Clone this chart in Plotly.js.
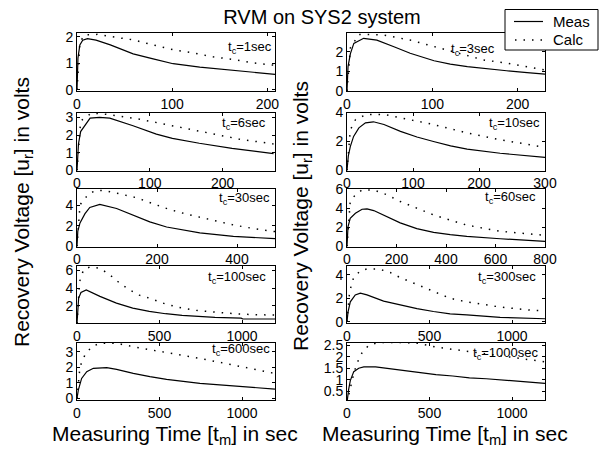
<!DOCTYPE html>
<html><head><meta charset="utf-8">
<script src="https://cdn.plot.ly/plotly-3.0.1.min.js"></script>
<style>html,body{margin:0;padding:0;background:#fff}#chart{width:600px;height:449px}</style>
</head><body><div id="chart"></div>
<script>
// ---- data ----
const tcLabels = ['1sec','3sec','6sec','10sec','30sec','60sec','100sec','300sec','600sec','1000sec'];
const seriesNames = ['Meas', 'Calc'];

const measT1 = [0, 1, 3, 6, 11, 20, 35, 59, 80, 101, 129, 164, 208];
const measV1 = [0, 1.2, 1.7, 1.88, 1.94, 1.88, 1.70, 1.36, 1.17, 0.99, 0.86, 0.73, 0.59];
const calcT1 = [0, 3, 8, 22, 40, 59, 80, 101, 122, 143, 164, 185, 208];
const calcV1 = [0, 1.8, 2.08, 2.1, 1.99, 1.89, 1.7, 1.52, 1.4, 1.25, 1.15, 1.02, 0.93];

const measT3 = [0, 1.2, 4, 8, 19.5, 35, 55, 74, 102, 121, 141, 164, 187, 211, 232];
const measV3 = [0, 1.24, 1.9, 2.42, 2.68, 2.59, 2.25, 1.92, 1.54, 1.37, 1.24, 1.12, 1.03, 0.93, 0.86];
const calcT3 = [0, 4, 14, 43, 74, 102, 129, 160, 188, 232];
const calcV3 = [0, 2.2, 2.88, 2.85, 2.59, 2.25, 1.92, 1.58, 1.41, 1.07];

const measT6 = [0, 2, 5, 11, 18, 31, 45, 77, 109, 131, 168, 213, 270];
const measV6 = [0, 1.5, 2.2, 2.53, 2.96, 3.0, 2.96, 2.53, 2.06, 1.82, 1.54, 1.25, 0.95];
const calcT6 = [0, 5, 20, 40, 86, 131, 177, 222, 270];
const calcV6 = [0, 2.8, 3.25, 3.18, 2.9, 2.53, 2.15, 1.78, 1.5];

const measT10 = [0, 2, 5, 10, 18, 28, 40, 56, 81, 106, 131, 157, 182, 232, 300];
const measV10 = [0, 1.0, 1.65, 2.35, 2.94, 3.29, 3.36, 3.17, 2.70, 2.31, 2.0, 1.70, 1.47, 1.19, 0.9];
const calcT10 = [0, 5, 13, 30, 56, 81, 131, 182, 232, 300];
const calcV10 = [0, 2.8, 3.52, 3.87, 3.87, 3.64, 3.17, 2.59, 2.12, 1.6];

const measT30 = [0, 2, 7.5, 20, 32, 50, 57, 99, 141, 182, 224, 266, 307, 391, 495];
const measV30 = [0, 1.5, 2.3, 3.2, 3.8, 4.05, 4.1, 3.7, 3.06, 2.4, 1.9, 1.58, 1.32, 0.99, 0.76];
const calcT30 = [0, 7.5, 20, 32, 49, 66, 99, 149, 191, 232, 274, 324, 391, 441, 495];
const calcV30 = [0, 4.05, 4.7, 5.2, 5.46, 5.46, 5.2, 4.75, 4.15, 3.6, 3.15, 2.7, 2.1, 1.75, 1.45];

const measT60 = [0, 4, 13, 34, 61, 81, 108, 148, 215, 282, 350, 417, 484, 619, 800];
const measV60 = [0, 2.05, 2.93, 3.46, 3.89, 3.92, 3.75, 3.29, 2.47, 1.87, 1.48, 1.24, 1.06, 0.81, 0.53];
const calcT60 = [0, 13, 34, 61, 108, 161, 215, 282, 350, 417, 484, 619, 800];
const calcV60 = [0, 4.7, 5.4, 5.9, 5.9, 5.4, 4.7, 4.0, 3.29, 2.76, 2.23, 1.59, 1.17];

const measT100 = [0, 4, 10, 24, 56, 139, 239, 338, 438, 537, 637, 836, 995, 1005, 1200];
const measV100 = [0, 1.74, 2.87, 3.5, 3.8, 3.06, 2.3, 1.74, 1.37, 1.1, 0.91, 0.69, 0.6, 0.5, 0.5];
const calcT100 = [0, 16, 40, 80, 139, 199, 259, 318, 378, 438, 537, 637, 736, 836, 955, 1075, 1200];
const calcV100 = [0, 4.75, 6.1, 6.4, 6.25, 5.5, 4.56, 3.81, 3.2, 2.87, 2.2, 1.74, 1.44, 1.25, 1.1, 0.99, 0.95];

const measT300 = [0, 6, 20, 50, 81, 121, 222, 323, 424, 524, 625, 726, 928, 1200];
const measV300 = [0, 0.82, 1.7, 2.29, 2.44, 2.29, 1.76, 1.41, 1.12, 0.88, 0.68, 0.59, 0.38, 0.26];
const calcT300 = [0, 16, 40, 81, 121, 192, 262, 323, 424, 524, 625, 726, 928, 1130, 1200];
const calcV300 = [0, 2.59, 3.76, 4.35, 4.5, 4.5, 4.2, 3.76, 3.18, 2.59, 2.0, 1.7, 1.26, 0.97, 0.95];

const measT600 = [0, 8, 28, 59, 99, 180, 240, 341, 442, 543, 745, 947, 1200];
const measV600 = [0, 0.54, 1.29, 1.72, 1.94, 1.98, 1.87, 1.61, 1.4, 1.23, 0.97, 0.8, 0.6];
const calcT600 = [0, 18, 48, 89, 139, 240, 341, 442, 543, 745, 947, 1200];
const calcV600 = [0, 2.04, 2.8, 3.33, 3.55, 3.55, 3.33, 3.16, 2.95, 2.58, 2.15, 1.61];

const measT1000 = [0, 4, 10, 20, 41, 71, 102, 173, 234, 336, 437, 539, 641, 742, 844, 966, 1047, 1200];
const measV1000 = [0, 0.27, 0.58, 0.96, 1.35, 1.5, 1.56, 1.56, 1.5, 1.39, 1.3, 1.22, 1.16, 1.08, 1.04, 0.96, 0.93, 0.84];
const calcT1000 = [0, 20, 41, 61, 92, 132, 193, 336, 437, 539, 641, 742, 844, 966, 1088, 1200];
const calcV1000 = [0, 0.65, 1.27, 1.73, 2.19, 2.5, 2.62, 2.62, 2.58, 2.42, 2.32, 2.22, 2.12, 2.0, 1.88, 1.78];

const xRanges = [[0,208],[0,232],[0,272],[0,300],[0,495],[0,800],[0,1200],[0,1200],[0,1200],[0,1200]];
const yRanges = [[-0.04,2.15],[0,2.95],[0,3.28],[0,4],[0,5.6],[0,6],[0.05,6.5],[-0.1,4.75],[-0.1,3.6],[0.115,2.62]];
const xTicks = [[0,100,200],[0,100,200],[0,100,200],[0,100,200,300],[0,200,400],[0,200,400,600,800],
                [0,500,1000],[0,500,1000],[0,500,1000],[0,500,1000]];
const yTicks = [[0,1,2],[0,1,2],[0,1,2,3],[0,2,4],[0,2,4],[0,2,4,6],[2,4,6],[0,2,4],[0,1,2,3],[0.5,1,1.5,2,2.5]];

const measT = [measT1, measT3, measT6, measT10, measT30, measT60, measT100, measT300, measT600, measT1000];
const measV = [measV1, measV3, measV6, measV10, measV30, measV60, measV100, measV300, measV600, measV1000];
const calcT = [calcT1, calcT3, calcT6, calcT10, calcT30, calcT60, calcT100, calcT300, calcT600, calcT1000];
const calcV = [calcV1, calcV3, calcV6, calcV10, calcV30, calcV60, calcV100, calcV300, calcV600, calcV1000];

// ---- layout (pixel geometry) ----
const W = 600, H = 449;
const FONT = 'Liberation Sans, Arial, Helvetica, sans-serif';
const colX = [[77,275],[347,545]];
const rowY = [[33,91],[112.5,170.5],[189,246.5],[266,323],[342.5,400]];
const labelRight = [274, 497, 268, 542, 272, 538, 268, 538, 272, 540];
const labelMid = [47, 49, 123, 123, 198.5, 198, 277, 277, 349.5, 353];
const MEAS_LINE = {color: '#000', width: 1.2};
const CALC_LINE = {color: '#000', width: 1.5, dash: '1.5px,7px'};
const px = v => v / W, py = v => 1 - v / H;

const traces = [];
const layout = {
  width: W, height: H,
  margin: {l:0, r:0, t:0, b:0},
  paper_bgcolor: '#fff', plot_bgcolor: '#fff',
  showlegend: false,
  font: {family: FONT, color: '#000'},
  title: {text: 'RVM on SYS2 system', font: {size: 20, family: FONT, color: '#000'},
          x: px(322), xanchor: 'center', xref: 'container', y: py(17), yanchor: 'middle', yref: 'container'},
  annotations: [],
  shapes: []
};

for (let k = 0; k < 10; k++) {
  const col = k % 2, row = Math.floor(k / 2);
  const n = k === 0 ? '' : String(k + 1);
  const xa = 'xaxis' + n, ya = 'yaxis' + n;
  const axCommon = {showline: true, linecolor: '#000', linewidth: 1, mirror: 'ticks',
    ticks: 'inside', ticklen: 3, tickcolor: '#000', tickwidth: 1,
    showgrid: false, zeroline: false, fixedrange: true,
    tickfont: {size: 14, family: FONT, color: '#000'}, tickmode: 'array'};
  layout[xa] = Object.assign({}, axCommon, {
    domain: [px(colX[col][0]), px(colX[col][1])], range: xRanges[k],
    tickvals: xTicks[k], ticktext: xTicks[k].map(String),
    anchor: 'y' + n
  });
  layout[ya] = Object.assign({}, axCommon, {
    domain: [py(rowY[row][1]), py(rowY[row][0])], range: yRanges[k],
    tickvals: yTicks[k], ticktext: yTicks[k].map(String),
    anchor: 'x' + n
  });
  traces.push({x: measT[k], y: measV[k], xaxis: 'x' + n, yaxis: 'y' + n, mode: 'lines',
    name: seriesNames[0], line: MEAS_LINE, hoverinfo: 'skip'});
  traces.push({x: calcT[k], y: calcV[k], xaxis: 'x' + n, yaxis: 'y' + n, mode: 'lines',
    name: seriesNames[1], line: CALC_LINE, hoverinfo: 'skip'});
  layout.annotations.push({text: 't<sub>c</sub>=' + tcLabels[k], xref: 'paper', yref: 'paper',
    x: px(labelRight[k]), y: py(labelMid[k]), xanchor: 'right', yanchor: 'middle',
    showarrow: false, font: {size: 13, family: FONT, color: '#000'}});
}

const yTitle = 'Recovery Voltage [u<sub>r</sub>] in volts';
const xTitle = 'Measuring Time [t<sub>m</sub>] in sec';
const bigFont = {size: 21, family: FONT, color: '#000'};
layout.annotations.push(
  {text: yTitle, xref: 'paper', yref: 'paper', x: px(23), y: py(212), textangle: -90,
   xanchor: 'center', yanchor: 'middle', showarrow: false, font: bigFont},
  {text: yTitle, xref: 'paper', yref: 'paper', x: px(302), y: py(216), textangle: -90,
   xanchor: 'center', yanchor: 'middle', showarrow: false, font: bigFont},
  {text: xTitle, xref: 'paper', yref: 'paper', x: px(174.5), y: py(435),
   xanchor: 'center', yanchor: 'middle', showarrow: false, font: bigFont},
  {text: xTitle, xref: 'paper', yref: 'paper', x: px(445), y: py(435),
   xanchor: 'center', yanchor: 'middle', showarrow: false, font: bigFont}
);

// legend box (drawn on top of the upper-right panel, as in the reference)
layout.shapes.push(
  {type: 'rect', xref: 'paper', yref: 'paper', x0: px(505), x1: px(598), y0: py(50), y1: py(9.5),
   line: {color: '#000', width: 1}, fillcolor: '#fff', layer: 'above'},
  {type: 'line', xref: 'paper', yref: 'paper', x0: px(514), x1: px(543), y0: py(21.5), y1: py(21.5),
   line: MEAS_LINE, layer: 'above'},
  {type: 'line', xref: 'paper', yref: 'paper', x0: px(515), x1: px(543), y0: py(40), y1: py(40),
   line: CALC_LINE, layer: 'above'}
);
layout.annotations.push(
  {text: seriesNames[0], xref: 'paper', yref: 'paper', x: px(551), y: py(21.5), xanchor: 'left',
   yanchor: 'middle', showarrow: false, font: {size: 15, family: FONT, color: '#000'}},
  {text: seriesNames[1], xref: 'paper', yref: 'paper', x: px(551), y: py(40), xanchor: 'left',
   yanchor: 'middle', showarrow: false, font: {size: 15, family: FONT, color: '#000'}}
);

Plotly.newPlot('chart', traces, layout, {staticPlot: true, displayModeBar: false});
</script>
</body></html>
